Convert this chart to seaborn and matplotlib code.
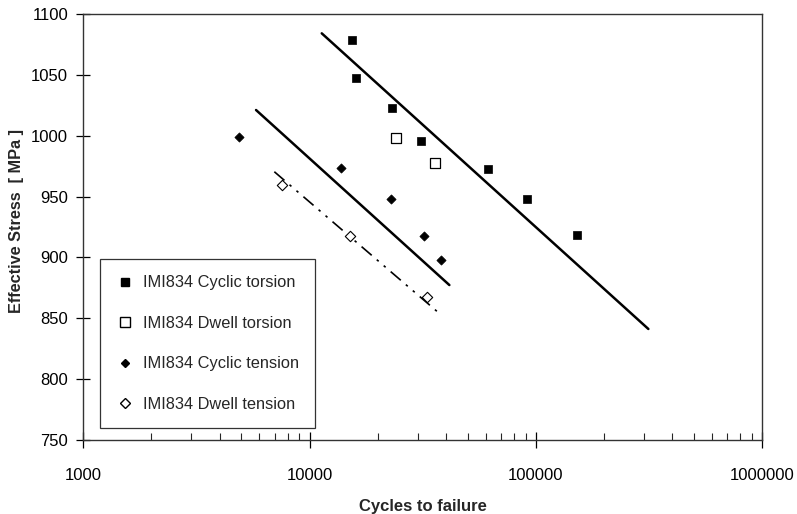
import matplotlib
matplotlib.use("Agg")
import matplotlib.pyplot as plt
import matplotlib.ticker as mticker
from matplotlib.lines import Line2D
import seaborn as sns
import numpy as np

# ---- data ----
ct_cycles = [15350, 15990, 23200, 30970, 61600, 91100, 152400]
ct_stress = [1078.6, 1047.2, 1022.5, 995.9, 972.4, 947.7, 918.4]

dt_cycles = [24090, 35830]
dt_stress = [997.9, 977.8]

cte_cycles = [4876, 13760, 22830, 32030, 37960]
cte_stress = [999.2, 973.7, 948.0, 917.6, 897.9]

dte_cycles = [7528, 15085, 33120]
dte_stress = [959.5, 917.6, 867.7]

fit_torsion_x = [11310, 313700]
fit_torsion_y = [1084.1, 841.2]
fit_tension_x = [5797, 41430]
fit_tension_y = [1021.1, 877.3]
fit_dwell_x = [6983, 37690]
fit_dwell_y = [970.4, 853.5]

x_ticks = [1000, 10000, 100000, 1000000]
y_ticks = [750, 800, 850, 900, 950, 1000, 1050, 1100]

labels = ["IMI834 Cyclic torsion", "IMI834 Dwell torsion",
          "IMI834 Cyclic tension", "IMI834 Dwell tension"]

sns.set_style("ticks")
plt.rcParams['font.family'] = ['Liberation Sans', 'DejaVu Sans']

fig = plt.figure(figsize=(7.97, 5.14), dpi=100)
ax = fig.add_axes([0.1045, 0.144, 0.852, 0.8288])

# fit lines
sns.lineplot(x=fit_torsion_x, y=fit_torsion_y, ax=ax, color='black', lw=1.8)
sns.lineplot(x=fit_tension_x, y=fit_tension_y, ax=ax, color='black', lw=1.8)
sns.lineplot(x=fit_dwell_x, y=fit_dwell_y, ax=ax, color='black', lw=1.2,
             linestyle=(0, (8, 4, 1.5, 4, 1.5, 4)))

# scatter series
sns.scatterplot(x=ct_cycles, y=ct_stress, ax=ax, marker='s', s=40,
                color='black', edgecolor='black', linewidth=0.5, zorder=5)
sns.scatterplot(x=dt_cycles, y=dt_stress, ax=ax, marker='s', s=45,
                facecolor='white', edgecolor='black', linewidth=0.9, zorder=5)
sns.scatterplot(x=cte_cycles, y=cte_stress, ax=ax, marker='D', s=22,
                color='black', edgecolor='black', linewidth=0.5, zorder=5)
sns.scatterplot(x=dte_cycles, y=dte_stress, ax=ax, marker='D', s=28,
                facecolor='white', edgecolor='black', linewidth=0.8, zorder=5)

ax.set_xscale('log')
ax.set_xlim(1000, 1000000)
ax.set_ylim(750, 1100)
ax.set_yticks(y_ticks)
ax.xaxis.set_major_locator(mticker.FixedLocator(x_ticks))
ax.xaxis.set_major_formatter(mticker.FuncFormatter(lambda v, p: f"{int(round(v))}"))
ax.xaxis.set_minor_locator(mticker.LogLocator(base=10, subs=np.arange(2, 10)))
ax.xaxis.set_minor_formatter(mticker.NullFormatter())

ax.tick_params(axis='x', which='major', direction='inout', length=12, width=0.9,
               labelsize=12, pad=14, colors='black')
ax.tick_params(axis='x', which='minor', direction='in', length=5, width=0.8)
ax.tick_params(axis='y', which='major', direction='inout', length=10, width=0.9,
               labelsize=12, pad=6, colors='black')
ax.tick_params(axis='y', which='minor', left=False)

for sp in ax.spines.values():
    sp.set_visible(True)
    sp.set_color('#333333')
    sp.set_linewidth(1.0)

ax.set_xlabel("Cycles to failure", fontsize=12, fontweight='bold', labelpad=12)
ylab = ax.set_ylabel("Effective Stress  [ MPa ]", fontsize=11.7, fontweight='bold')
ylab.set_verticalalignment('center')
ylab.set_horizontalalignment('center')
ax.yaxis.set_label_coords(-0.099, 0.515)

handles = [
    Line2D([], [], marker='s', ls='', color='black', markersize=5.5),
    Line2D([], [], marker='s', ls='', markerfacecolor='white', markeredgecolor='black', markersize=7),
    Line2D([], [], marker='D', ls='', color='black', markersize=4.5),
    Line2D([], [], marker='D', ls='', markerfacecolor='white', markeredgecolor='black', markersize=5),
]
leg = ax.legend(handles, labels, loc='lower left', bbox_to_anchor=(0.0246, 0.028),
                borderaxespad=0, frameon=True, fancybox=False, fontsize=11.8,
                labelspacing=1.55, handletextpad=0.6, handlelength=1.0,
                borderpad=1.0, edgecolor='black')
leg.get_frame().set_linewidth(0.9)

fig.savefig("out.png", dpi=100)
